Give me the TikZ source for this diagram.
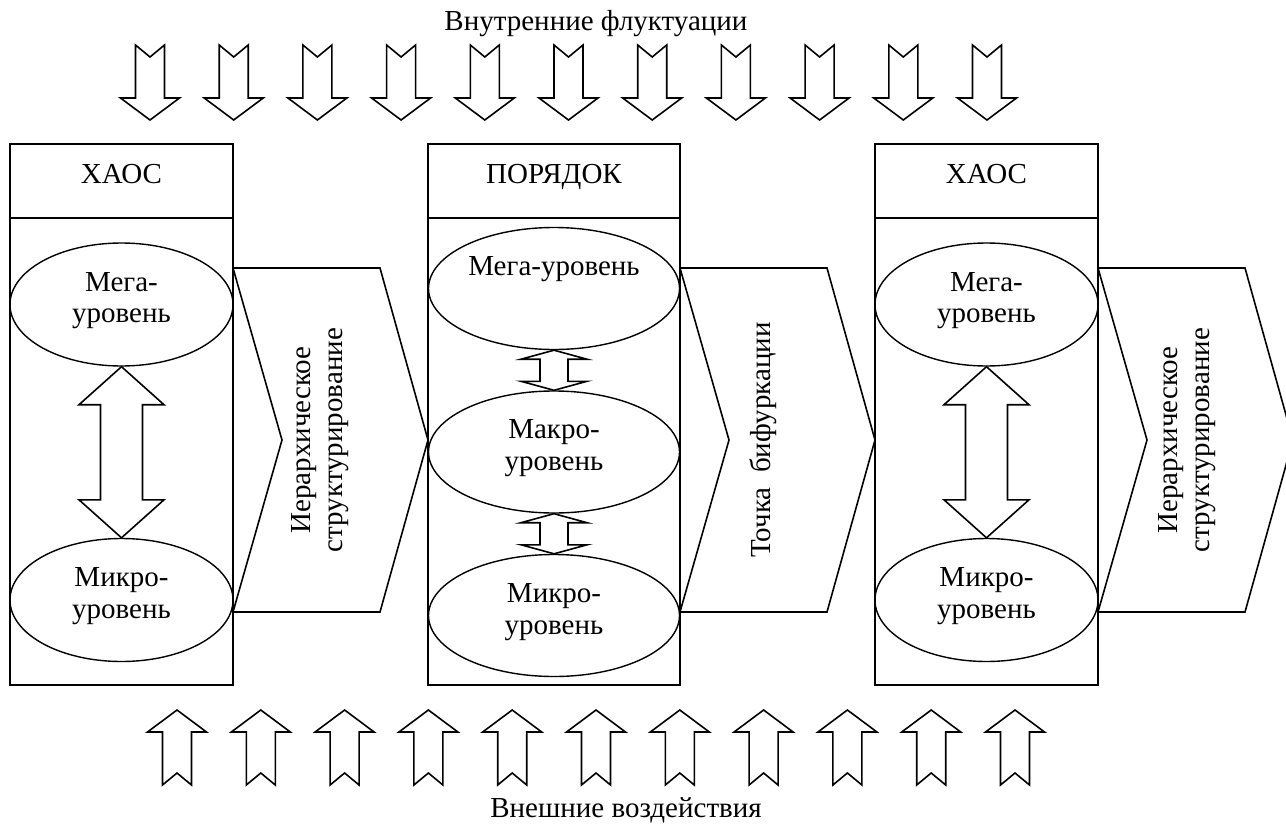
\documentclass[tikz,border=0pt]{standalone}
\usepackage{fontspec}
\setmainfont{Liberation Serif}
\usetikzlibrary{shapes.geometric,calc}
\tikzset{
  cell/.style={draw, line width=0.9pt, inner sep=0pt, outer sep=0pt},
  level/.style={draw, ellipse, line width=0.7pt, align=center, inner sep=0pt, text depth=7pt},
  flow/.style={draw, line width=0.8pt, line join=miter},
  chev/.style={draw, line width=0.8pt, line join=miter},
}

\begin{document}
\begin{tikzpicture}[x=0.5pt, y=-0.5pt, font=\fontsize{14.5}{16}\selectfont]
\clip (0,0) rectangle (1286,825);
% headers and bodies
\node[cell, minimum width=111.5pt, minimum height=37pt, text height=10pt, text depth=8pt] (head1) at (121.5,181) {ХАОС};
\node[cell, minimum width=111.5pt, minimum height=233.5pt, anchor=north] (body1) at (head1.south) {};
\node[cell, minimum width=126pt, minimum height=37pt, text height=10pt, text depth=8pt] (head2) at (554,181) {ПОРЯДОК};
\node[cell, minimum width=126pt, minimum height=233.5pt, anchor=north] (body2) at (head2.south) {};
\node[cell, minimum width=111.5pt, minimum height=37pt, text height=10pt, text depth=8pt] (head3) at (986.5,181) {ХАОС};
\node[cell, minimum width=111.5pt, minimum height=233.5pt, anchor=north] (body3) at (head3.south) {};
% levels
\node[level, minimum width=111.5pt, minimum height=61.5pt] (mega1) at (121.5,304.5) {Мега-\\уровень};
\node[level, minimum width=111.5pt, minimum height=61.5pt] (micro1) at (121.5,600) {Микро-\\уровень};
\node[level, minimum width=125.5pt, minimum height=61pt] (mega2) at (554,288.5) {Мега-уровень\\\phantom{у}};
\node[level, minimum width=125.5pt, minimum height=61pt] (macro2) at (554,452) {Макро-\\уровень};
\node[level, minimum width=125.5pt, minimum height=61pt] (micro2) at (554,615.5) {Микро-\\уровень};
\node[level, minimum width=111.5pt, minimum height=61.5pt] (mega3) at (986.5,304.5) {Мега-\\уровень};
\node[level, minimum width=111.5pt, minimum height=61.5pt] (micro3) at (986.5,600) {Микро-\\уровень};
% links between levels
\draw[flow] (mega1.south) -- ++(42.5,38) -- ++(-21.5,0) -- ($(micro1.north)+(21,-38)$) -- ++(21.5,0) -- (micro1.north) -- ++(-42.5,-38) -- ++(21.5,0) -- ($(mega1.south)+(-21,38)$) -- ++(-21.5,0) -- cycle;
\draw[flow] (mega2.south) -- ++(33,9) -- ++(-19,0) -- ($(macro2.north)+(14,-9)$) -- ++(19,0) -- (macro2.north) -- ++(-33,-9) -- ++(19,0) -- ($(mega2.south)+(-14,9)$) -- ++(-19,0) -- cycle;
\draw[flow] (macro2.south) -- ++(33,9) -- ++(-19,0) -- ($(micro2.north)+(14,-9)$) -- ++(19,0) -- (micro2.north) -- ++(-33,-9) -- ++(19,0) -- ($(macro2.south)+(-14,9)$) -- ++(-19,0) -- cycle;
\draw[flow] (mega3.south) -- ++(42.5,38) -- ++(-21.5,0) -- ($(micro3.north)+(21,-38)$) -- ++(21.5,0) -- (micro3.north) -- ++(-42.5,-38) -- ++(21.5,0) -- ($(mega3.south)+(-21,38)$) -- ++(-21.5,0) -- cycle;
% transitions
\draw[chev] (233,268) -- ++(147,0) -- ++(48,172) -- ++(-48,172) -- ++(-147,0) -- ++(49,-172) -- cycle;
\node[rotate=90, align=center] (stage1) at (320,440) {Иерархическое\\структурирование};
\draw[chev] (680,268) -- ++(147,0) -- ++(48,172) -- ++(-48,172) -- ++(-147,0) -- ++(49,-172) -- cycle;
\node[rotate=90] (stage2) at (763,440) {Точка~~бифуркации};
\draw[chev] (1098,268) -- ++(147,0) -- ++(48,172) -- ++(-48,172) -- ++(-147,0) -- ++(49,-172) -- cycle;
\node[rotate=90, align=center] (stage3) at (1187,440) {Иерархическое\\структурирование};
% fluctuations from above
\node[anchor=base] (inner) at (596,30) {Внутренние флуктуации};
\draw[flow] (135.5,45) -- ++(14.5,12) -- ++(14.5,-12) -- ++(0,53) -- ++(15,0) -- ++(-29.5,22) -- ++(-29.5,-22) -- ++(15,0) -- cycle;
\draw[flow] (219.2,45) -- ++(14.5,12) -- ++(14.5,-12) -- ++(0,53) -- ++(15,0) -- ++(-29.5,22) -- ++(-29.5,-22) -- ++(15,0) -- cycle;
\draw[flow] (302.9,45) -- ++(14.5,12) -- ++(14.5,-12) -- ++(0,53) -- ++(15,0) -- ++(-29.5,22) -- ++(-29.5,-22) -- ++(15,0) -- cycle;
\draw[flow] (386.6,45) -- ++(14.5,12) -- ++(14.5,-12) -- ++(0,53) -- ++(15,0) -- ++(-29.5,22) -- ++(-29.5,-22) -- ++(15,0) -- cycle;
\draw[flow] (470.3,45) -- ++(14.5,12) -- ++(14.5,-12) -- ++(0,53) -- ++(15,0) -- ++(-29.5,22) -- ++(-29.5,-22) -- ++(15,0) -- cycle;
\draw[flow] (554,45) -- ++(14.5,12) -- ++(14.5,-12) -- ++(0,53) -- ++(15,0) -- ++(-29.5,22) -- ++(-29.5,-22) -- ++(15,0) -- cycle;
\draw[flow] (637.7,45) -- ++(14.5,12) -- ++(14.5,-12) -- ++(0,53) -- ++(15,0) -- ++(-29.5,22) -- ++(-29.5,-22) -- ++(15,0) -- cycle;
\draw[flow] (721.4,45) -- ++(14.5,12) -- ++(14.5,-12) -- ++(0,53) -- ++(15,0) -- ++(-29.5,22) -- ++(-29.5,-22) -- ++(15,0) -- cycle;
\draw[flow] (805.1,45) -- ++(14.5,12) -- ++(14.5,-12) -- ++(0,53) -- ++(15,0) -- ++(-29.5,22) -- ++(-29.5,-22) -- ++(15,0) -- cycle;
\draw[flow] (888.8,45) -- ++(14.5,12) -- ++(14.5,-12) -- ++(0,53) -- ++(15,0) -- ++(-29.5,22) -- ++(-29.5,-22) -- ++(15,0) -- cycle;
\draw[flow] (972.5,45) -- ++(14.5,12) -- ++(14.5,-12) -- ++(0,53) -- ++(15,0) -- ++(-29.5,22) -- ++(-29.5,-22) -- ++(15,0) -- cycle;
% influences from below
\draw[flow] (177,710) -- ++(29.5,22) -- ++(-15,0) -- ++(0,53) -- ++(-14.5,-12) -- ++(-14.5,12) -- ++(0,-53) -- ++(-15,0) -- cycle;
\draw[flow] (260.8,710) -- ++(29.5,22) -- ++(-15,0) -- ++(0,53) -- ++(-14.5,-12) -- ++(-14.5,12) -- ++(0,-53) -- ++(-15,0) -- cycle;
\draw[flow] (344.6,710) -- ++(29.5,22) -- ++(-15,0) -- ++(0,53) -- ++(-14.5,-12) -- ++(-14.5,12) -- ++(0,-53) -- ++(-15,0) -- cycle;
\draw[flow] (428.4,710) -- ++(29.5,22) -- ++(-15,0) -- ++(0,53) -- ++(-14.5,-12) -- ++(-14.5,12) -- ++(0,-53) -- ++(-15,0) -- cycle;
\draw[flow] (512.2,710) -- ++(29.5,22) -- ++(-15,0) -- ++(0,53) -- ++(-14.5,-12) -- ++(-14.5,12) -- ++(0,-53) -- ++(-15,0) -- cycle;
\draw[flow] (596,710) -- ++(29.5,22) -- ++(-15,0) -- ++(0,53) -- ++(-14.5,-12) -- ++(-14.5,12) -- ++(0,-53) -- ++(-15,0) -- cycle;
\draw[flow] (679.8,710) -- ++(29.5,22) -- ++(-15,0) -- ++(0,53) -- ++(-14.5,-12) -- ++(-14.5,12) -- ++(0,-53) -- ++(-15,0) -- cycle;
\draw[flow] (763.6,710) -- ++(29.5,22) -- ++(-15,0) -- ++(0,53) -- ++(-14.5,-12) -- ++(-14.5,12) -- ++(0,-53) -- ++(-15,0) -- cycle;
\draw[flow] (847.4,710) -- ++(29.5,22) -- ++(-15,0) -- ++(0,53) -- ++(-14.5,-12) -- ++(-14.5,12) -- ++(0,-53) -- ++(-15,0) -- cycle;
\draw[flow] (931.2,710) -- ++(29.5,22) -- ++(-15,0) -- ++(0,53) -- ++(-14.5,-12) -- ++(-14.5,12) -- ++(0,-53) -- ++(-15,0) -- cycle;
\draw[flow] (1015,710) -- ++(29.5,22) -- ++(-15,0) -- ++(0,53) -- ++(-14.5,-12) -- ++(-14.5,12) -- ++(0,-53) -- ++(-15,0) -- cycle;
\node[anchor=base] (outer) at (626,817) {Внешние воздействия};
\end{tikzpicture}
\end{document}
